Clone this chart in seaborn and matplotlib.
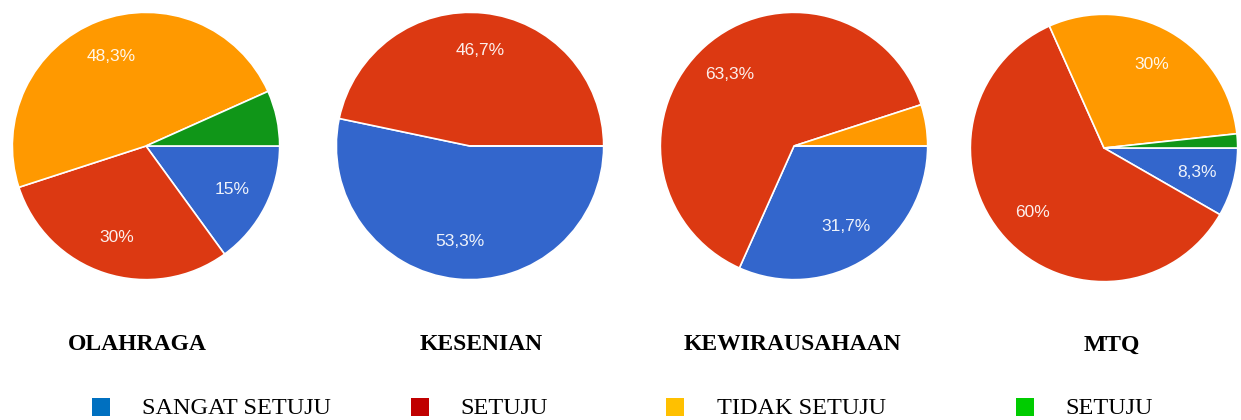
import matplotlib
matplotlib.use("Agg")
import matplotlib.pyplot as plt
import seaborn as sns

# === Data ===
kategori = ["SANGAT SETUJU", "SETUJU", "TIDAK SETUJU", "SETUJU"]
judul = ["OLAHRAGA", "KESENIAN", "KEWIRAUSAHAAN", "MTQ"]

olahraga = [15, 30, 48.3, 6.7]
kesenian = [53.3, 46.7, 0, 0]
kewirausahaan = [31.7, 63.3, 5, 0]
mtq = [8.3, 60, 30, 1.7]
semua = [olahraga, kesenian, kewirausahaan, mtq]

# pie colours (google forms) and legend colours (office)
warna_pie = ["#3366CC", "#DC3912", "#FF9900", "#109618"]
warna_legend = ["#0070C0", "#C00000", "#FFC000", "#00CC00"]

sns.set_theme(style="white")
plt.rcParams['font.family'] = ['Liberation Sans', 'DejaVu Sans']
plt.rcParams['text.color'] = 'black'

W, H = 1241, 420
fig = plt.figure(figsize=(W / 100, H / 100), dpi=100)
fig.patch.set_facecolor("white")

# pixel layout
pusat = [(146, 146), (470, 146), (794, 146), (1104, 148)]
r = 135
judul_x = [137, 481, 792, 1112]
judul_y = 345
leg_kotak_x = [101, 420, 675, 1025]
leg_teks_x = [142, 460, 717, 1065]
leg_y = 408


def fmt(p):
    if p < 7:
        return ""
    if abs(p - round(p)) < 0.05:
        return "%d%%" % round(p)
    return ("%.1f%%" % p).replace(".", ",")


for nilai, (cx, cy) in zip(semua, pusat):
    ax = fig.add_axes([(cx - r) / W, 1 - (cy + r) / H, 2 * r / W, 2 * r / H])
    wedges, _, autotexts = ax.pie(
        nilai, colors=warna_pie, startangle=0, counterclock=False,
        autopct=fmt, pctdistance=0.72,
        wedgeprops=dict(edgecolor="white", linewidth=1.2),
        textprops=dict(color="white", fontsize=12.5, alpha=0.92))
    ax.set_xlim(-1.01, 1.01)
    ax.set_ylim(-1.01, 1.01)
    ax.set_aspect("equal")
    ax.axis("off")

# titles
for t, x in zip(judul, judul_x):
    fig.text(x / W, 1 - judul_y / H, t, ha="center", va="center", color="black",
             fontsize=17, fontweight="bold", family="Liberation Serif")

# legend drawn by hand
lax = fig.add_axes([0, 0, 1, 1])
lax.set_xlim(0, W)
lax.set_ylim(H, 0)
lax.axis("off")
lax.scatter(leg_kotak_x, [leg_y - 1] * 4, marker="s", s=150, c=warna_legend,
            linewidths=0)
for t, x in zip(kategori, leg_teks_x):
    lax.text(x, leg_y + 1, t, ha="left", va="center", fontsize=17.5,
             family="Liberation Serif", color="black")

fig.savefig("out.png", dpi=100, facecolor="white")
